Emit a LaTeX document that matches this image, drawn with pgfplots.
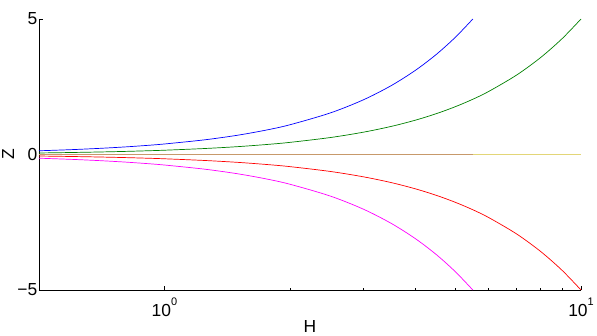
\documentclass[border=0pt]{standalone}
\usepackage{pgfplots}
\pgfplotsset{compat=1.18}
\usepackage{fontspec}
\setmainfont{Liberation Sans}

\definecolor{cblue}{rgb}{0,0,1}
\definecolor{cgreen}{rgb}{0,0.5,0}
\definecolor{cred}{rgb}{1,0,0}
\definecolor{cmag}{rgb}{1,0,1}
\definecolor{ctan}{rgb}{0.78,0.60,0.42}
\definecolor{cyel}{rgb}{0.89,0.84,0.47}

\newcommand{\lblfont}{\fontsize{17.5}{19}\selectfont}
\newcommand{\tenpow}[1]{10\raisebox{0.6em}{\fontsize{11}{11}\selectfont #1}}

\begin{document}
\begin{tikzpicture}
\useasboundingbox (-39bp,-46bp) rectangle (558bp,290bp);
\begin{axis}[
  at={(0,0)}, anchor=south west,
  scale only axis, width=542bp, height=271bp,
  xmode=log, xmin=0.5, xmax=10,
  ymin=-5, ymax=5,
  axis x line*=bottom, axis y line*=left,
  axis line style={-, black, line width=0.6bp},
  tick align=inside,
  major tick length=4bp, minor tick length=2.5bp,
  tick style={black, line width=0.5bp},
  /pgf/number format/assume math mode=true,
  xtick={1,10}, xticklabels={\tenpow{0},\tenpow{1}},
  ytick={-5,0,5}, yticklabels={−5,0,5},
  font=\lblfont,
  ticklabel style={font=\lblfont},
  yticklabel style={inner sep=1.5bp},
  xticklabel style={inner sep=0pt, anchor=base, yshift=-26bp},
  xlabel={H}, ylabel={Z},
  every axis x label/.style={at={(axis description cs:0.5,0)}, anchor=base, yshift=-42.5bp, inner sep=0pt, font=\lblfont},
  every axis y label/.style={at={(axis description cs:-0.0455,0.5)}, rotate=90, anchor=south, inner sep=0pt, font=\lblfont},
  clip=false,
]
% flat branches at zero
\addplot[cyel, line width=1.6bp] coordinates {(0.5,0) (10,0)};
\addplot[ctan, line width=1.6bp] coordinates {(0.5,0) (5.5,0)};
% steep pair, ends at H = 5.5
\addplot[cblue, line width=0.7bp, smooth] coordinates {
(0.5,0.137) (0.6,0.180) (0.7,0.227) (0.8,0.277) (0.9,0.331) (1.0,0.388)
(1.25,0.542) (1.5,0.712) (1.75,0.897) (2.0,1.096) (2.5,1.532) (3.0,2.014)
(3.5,2.538) (4.0,3.101) (4.5,3.700) (5.0,4.334) (5.5,5.000)};
\addplot[cmag, line width=0.7bp, smooth] coordinates {
(0.5,-0.137) (0.6,-0.180) (0.7,-0.227) (0.8,-0.277) (0.9,-0.331) (1.0,-0.388)
(1.25,-0.542) (1.5,-0.712) (1.75,-0.897) (2.0,-1.096) (2.5,-1.532) (3.0,-2.014)
(3.5,-2.538) (4.0,-3.101) (4.5,-3.700) (5.0,-4.334) (5.5,-5.000)};
% shallow pair, ends at H = 10
\addplot[cgreen, line width=0.7bp, smooth] coordinates {
(0.5,0.056) (0.6,0.074) (0.7,0.093) (0.8,0.113) (0.9,0.135) (1.0,0.158)
(1.25,0.221) (1.5,0.290) (1.75,0.366) (2.0,0.447) (2.5,0.625) (3.0,0.822)
(3.5,1.035) (4.0,1.265) (4.5,1.509) (5.0,1.768) (5.5,2.039) (6.0,2.324)
(7.0,2.928) (8.0,3.578) (9.0,4.269) (10,5.000)};
\addplot[cred, line width=0.7bp, smooth] coordinates {
(0.5,-0.056) (0.6,-0.074) (0.7,-0.093) (0.8,-0.113) (0.9,-0.135) (1.0,-0.158)
(1.25,-0.221) (1.5,-0.290) (1.75,-0.366) (2.0,-0.447) (2.5,-0.625) (3.0,-0.822)
(3.5,-1.035) (4.0,-1.265) (4.5,-1.509) (5.0,-1.768) (5.5,-2.039) (6.0,-2.324)
(7.0,-2.928) (8.0,-3.578) (9.0,-4.269) (10,-5.000)};
\end{axis}
\end{tikzpicture}
\end{document}
